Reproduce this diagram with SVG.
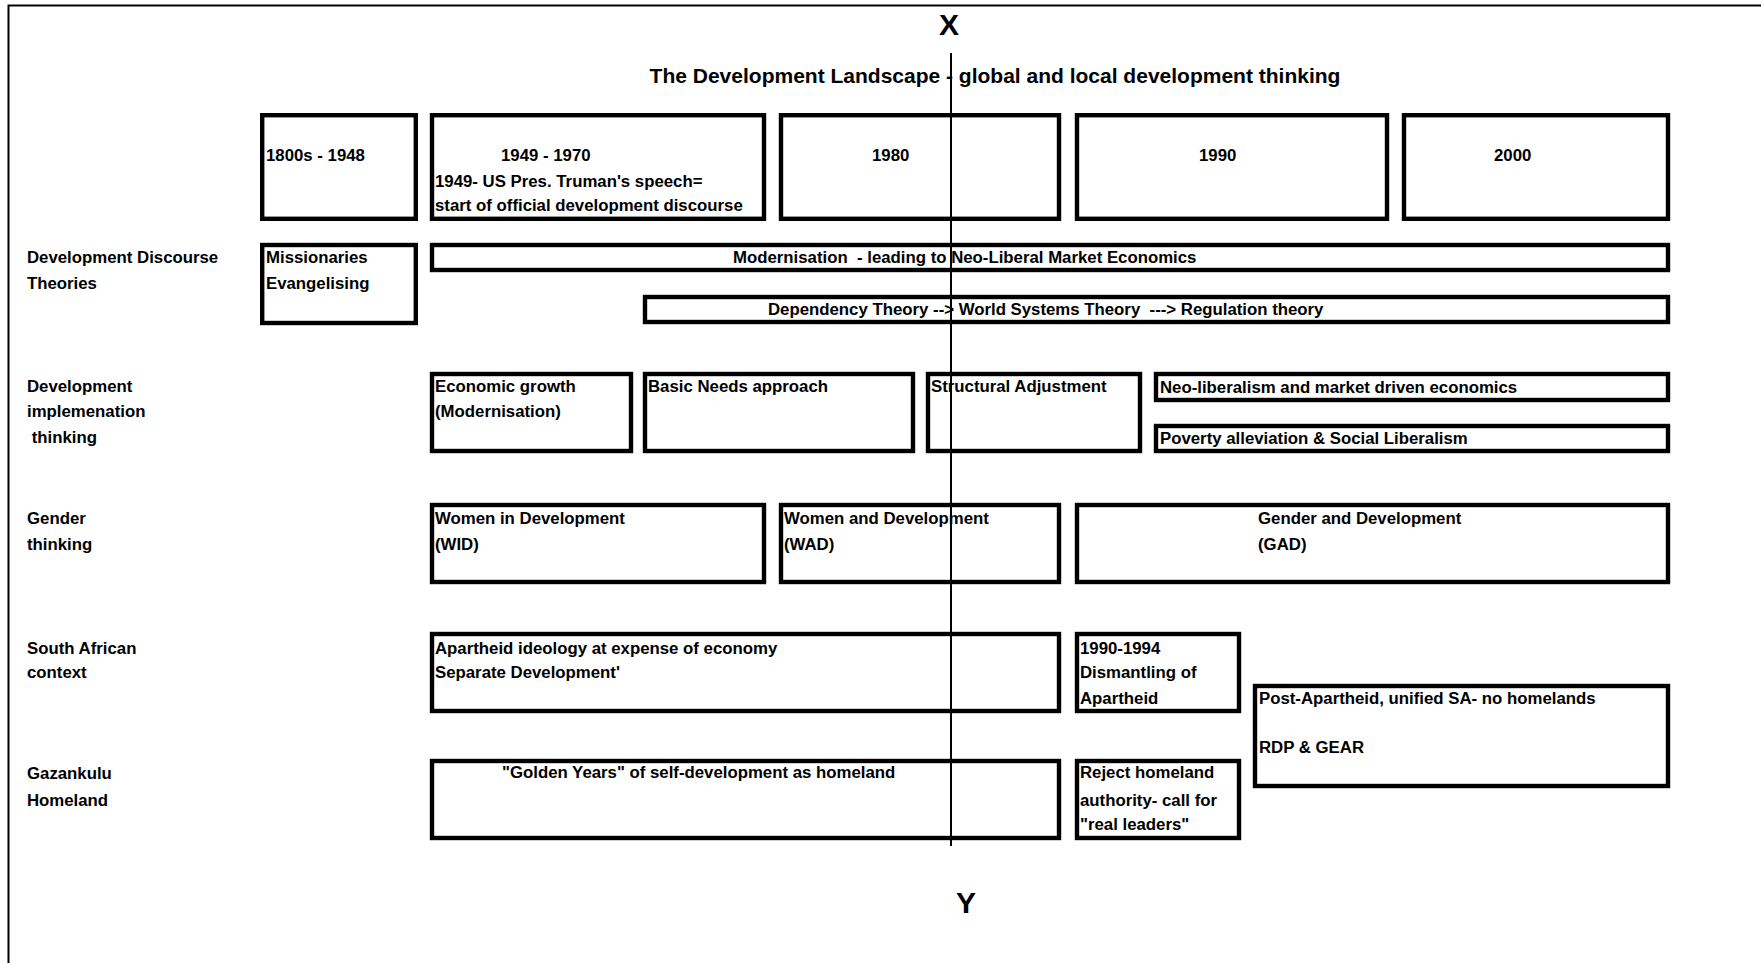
<svg xmlns="http://www.w3.org/2000/svg" width="1761" height="963" viewBox="0 0 1761 963">
<style>
text{font-family:"Liberation Sans",Arial,sans-serif;font-weight:bold;font-size:16.8px;fill:#000;white-space:pre}
.box{fill:#fff;stroke:#000;stroke-width:4.4}
.title{font-size:21px}
.axis{font-size:30px}
</style>
<rect width="1761" height="963" fill="#fff"/>
<path d="M8.5,963 V5.5 H1761" fill="none" stroke="#000" stroke-width="2"/>
<text class="title" x="995" y="83" text-anchor="middle">The Development Landscape - global and local development thinking</text>
<text class="axis" x="949" y="35" text-anchor="middle">X</text>
<text class="axis" x="966" y="913" text-anchor="middle">Y</text>

<g id="row-labels">
<text x="27" y="263">Development Discourse</text>
<text x="27" y="289">Theories</text>
<text x="27" y="392">Development</text>
<text x="27" y="417">implemenation</text>
<text x="27" y="443"> thinking</text>
<text x="27" y="524">Gender</text>
<text x="27" y="550">thinking</text>
<text x="27" y="654">South African</text>
<text x="27" y="678">context</text>
<text x="27" y="779">Gazankulu</text>
<text x="27" y="806">Homeland</text>
</g>

<g id="h1800"><rect class="box" x="262.2" y="115.2" width="153.6" height="103.6"/><text x="266" y="161">1800s - 1948</text></g>
<g id="h1949"><rect class="box" x="432" y="115.2" width="332" height="103.6"/><text x="501" y="161">1949 - 1970</text><text x="435" y="187">1949- US Pres. Truman's speech=</text><text x="435" y="211">start of official development discourse</text></g>
<g id="h1980"><rect class="box" x="781" y="115.2" width="278" height="103.6"/><text x="872" y="161">1980</text></g>
<g id="h1990"><rect class="box" x="1077" y="115.2" width="310" height="103.6"/><text x="1199" y="161">1990</text></g>
<g id="h2000"><rect class="box" x="1404" y="115.2" width="264" height="103.6"/><text x="1494" y="161">2000</text></g>

<g id="missionaries"><rect class="box" x="262.2" y="245" width="153.6" height="78"/><text x="266" y="263">Missionaries</text><text x="266" y="289">Evangelising</text></g>
<g id="modernisation"><rect class="box" x="432" y="245" width="1236" height="25"/><text x="733" y="263">Modernisation  - leading to Neo-Liberal Market Economics</text></g>
<g id="dependency"><rect class="box" x="645" y="297" width="1023" height="25"/><text x="768" y="315">Dependency Theory --&gt; World Systems Theory  ---&gt; Regulation theory</text></g>

<g id="economic-growth"><rect class="box" x="432" y="374" width="199" height="77"/><text x="435" y="392">Economic growth</text><text x="435" y="417">(Modernisation)</text></g>
<g id="basic-needs"><rect class="box" x="645" y="374" width="268" height="77"/><text x="648" y="392">Basic Needs approach</text></g>
<g id="structural"><rect class="box" x="928" y="374" width="212" height="77"/><text x="931" y="392">Structural Adjustment</text></g>
<g id="neoliberalism"><rect class="box" x="1156" y="374" width="512" height="26"/><text x="1160" y="393">Neo-liberalism and market driven economics</text></g>
<g id="poverty"><rect class="box" x="1156" y="426" width="512" height="25"/><text x="1160" y="444">Poverty alleviation &amp; Social Liberalism</text></g>

<g id="wid"><rect class="box" x="432" y="505" width="332" height="77"/><text x="435" y="524">Women in Development</text><text x="435" y="550">(WID)</text></g>
<g id="wad"><rect class="box" x="781" y="505" width="278" height="77"/><text x="784" y="524">Women and Development</text><text x="784" y="550">(WAD)</text></g>
<g id="gad"><rect class="box" x="1077" y="505" width="591" height="77"/><text x="1258" y="524">Gender and Development</text><text x="1258" y="550">(GAD)</text></g>

<g id="apartheid"><rect class="box" x="432" y="634" width="627" height="77"/><text x="435" y="654">Apartheid ideology at expense of economy</text><text x="435" y="678">Separate Development'</text></g>
<g id="dismantling"><rect class="box" x="1077" y="634" width="162" height="77"/><text x="1080" y="654">1990-1994</text><text x="1080" y="678">Dismantling of</text><text x="1080" y="704">Apartheid</text></g>
<g id="post-apartheid"><rect class="box" x="1255" y="686" width="413" height="100"/><text x="1259" y="704">Post-Apartheid, unified SA- no homelands</text><text x="1259" y="753">RDP &amp; GEAR</text></g>

<g id="golden-years"><rect class="box" x="432" y="761" width="627" height="77"/><text x="502" y="778">"Golden Years" of self-development as homeland</text></g>
<g id="reject"><rect class="box" x="1077" y="761" width="162" height="77"/><text x="1080" y="778">Reject homeland</text><text x="1080" y="806">authority- call for</text><text x="1080" y="830">"real leaders"</text></g>

<g id="connectors">
<line x1="951" y1="53" x2="951" y2="846" stroke="#000" stroke-width="2"/>
</g>
</svg>
